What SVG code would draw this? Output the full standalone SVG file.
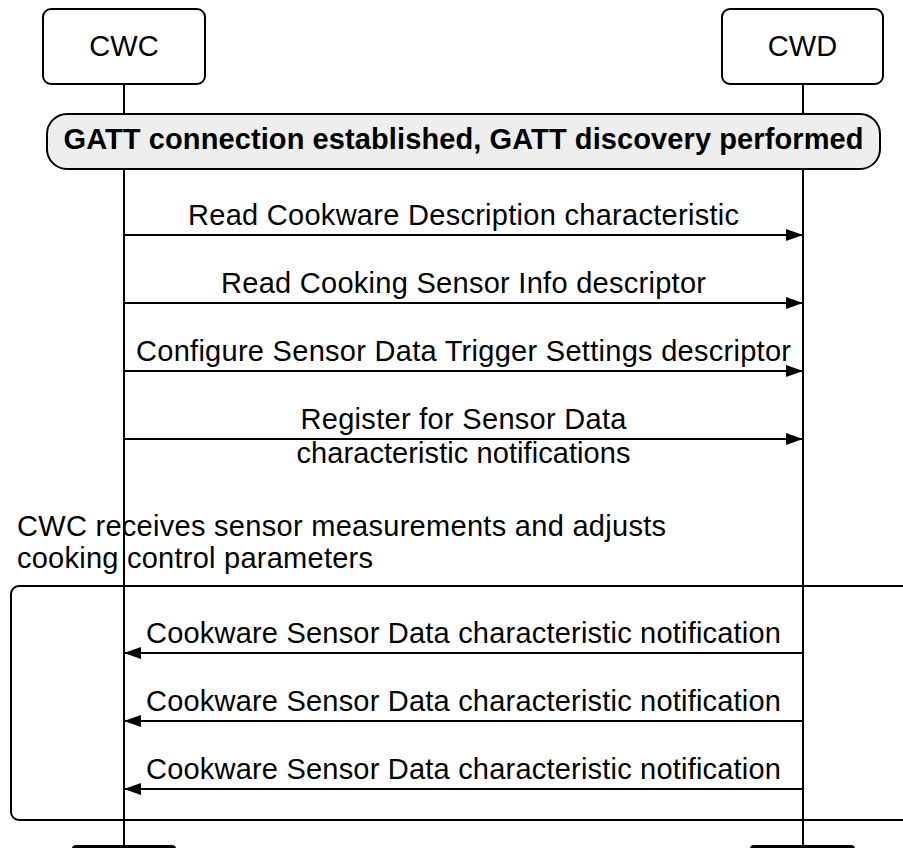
<svg xmlns="http://www.w3.org/2000/svg" width="903" height="848" viewBox="0 0 903 848">
  <style>
    .box { fill: #ffffff; stroke: #000000; stroke-width: 2; }
    .life { stroke: #000000; stroke-width: 2; fill: none; }
    .msg { stroke: #000000; stroke-width: 2; fill: none; marker-end: url(#arrow); }
    .t { font-family: "Liberation Sans", Arial, sans-serif; font-size: 29px; fill: #000000; }
    .head { font-family: "Liberation Sans", Arial, sans-serif; font-size: 29px; fill: #000000; text-anchor: middle; }
    .mid { text-anchor: middle; }
    .banner { fill: #eeeeee; stroke: #000000; stroke-width: 2; }
    .bt { font-family: "Liberation Sans", Arial, sans-serif; font-size: 29px; font-weight: bold; fill: #000000; text-anchor: middle; }
    .foot { fill: #000000; stroke: none; }
  </style>
  <defs>
    <marker id="arrow" markerUnits="userSpaceOnUse" markerWidth="17" markerHeight="13" refX="17" refY="6.5" orient="auto">
      <path d="M0,0.5 L17,6.5 L0,12.5 Z" fill="#000000"/>
    </marker>
  </defs>
  <rect width="903" height="848" fill="#ffffff"/>

  <g id="lifelines">
    <line class="life" x1="124" y1="84" x2="124" y2="848"/>
    <line class="life" x1="803" y1="84" x2="803" y2="848"/>
  </g>

  <g id="node-cwc">
    <rect class="box" x="43" y="9" width="162" height="75" rx="8"/>
    <text class="head" x="124" y="56">CWC</text>
    <rect class="foot" x="72" y="845" width="104" height="20" rx="4"/>
  </g>
  <g id="node-cwd">
    <rect class="box" x="722" y="9" width="161" height="75" rx="8"/>
    <text class="head" x="802.5" y="56">CWD</text>
    <rect class="foot" x="750" y="845" width="105" height="20" rx="4"/>
  </g>

  <g id="banner">
    <rect class="banner" x="47" y="114" width="833" height="55" rx="20"/>
    <text class="bt" x="463.5" y="149" textLength="800">GATT connection established, GATT discovery performed</text>
  </g>

  <g id="loop">
    <rect x="11" y="586" width="920" height="234" rx="8" fill="none" stroke="#000000" stroke-width="2"/>
    <text class="t" x="17" y="536" textLength="649">CWC receives sensor measurements and adjusts</text>
    <text class="t" x="17" y="568" textLength="356">cooking control parameters</text>
  </g>

  <g id="connectors">
    <line class="msg" x1="124" y1="235" x2="803" y2="235"/>
    <line class="msg" x1="124" y1="303" x2="803" y2="303"/>
    <line class="msg" x1="124" y1="371" x2="803" y2="371"/>
    <line class="msg" x1="124" y1="439" x2="803" y2="439"/>
    <line class="msg" x1="803" y1="653" x2="124" y2="653"/>
    <line class="msg" x1="803" y1="721" x2="124" y2="721"/>
    <line class="msg" x1="803" y1="789" x2="124" y2="789"/>
  </g>

  <g id="labels">
    <text class="t mid" x="463.5" y="225" textLength="551">Read Cookware Description characteristic</text>
    <text class="t mid" x="463.5" y="293" textLength="485">Read Cooking Sensor Info descriptor</text>
    <text class="t mid" x="463.5" y="361" textLength="655">Configure Sensor Data Trigger Settings descriptor</text>
    <text class="t mid" x="463.5" y="429" textLength="326">Register for Sensor Data</text>
    <text class="t mid" x="463.5" y="463" textLength="334">characteristic notifications</text>
    <text class="t mid" x="463.5" y="643" textLength="635">Cookware Sensor Data characteristic notification</text>
    <text class="t mid" x="463.5" y="711" textLength="635">Cookware Sensor Data characteristic notification</text>
    <text class="t mid" x="463.5" y="779" textLength="635">Cookware Sensor Data characteristic notification</text>
  </g>
</svg>
